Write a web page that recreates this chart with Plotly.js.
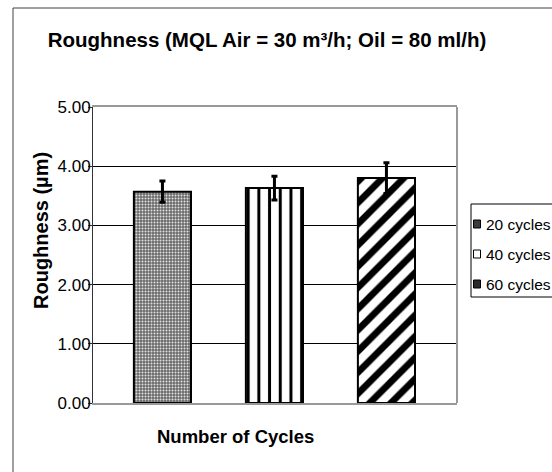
<!DOCTYPE html>
<html>
<head>
<meta charset="utf-8">
<script src="https://cdn.plot.ly/plotly-3.0.1.min.js"></script>
<style>
html,body{margin:0;padding:0;background:#fff;}
#chart{width:552px;height:472px;}
</style>
</head>
<body>
<div id="chart"></div>
<script>
// ---- data ----
const categories = ['20 cycles', '40 cycles', '60 cycles'];
const roughness = [3.57, 3.63, 3.80];
const roughnessErr = [0.18, 0.20, 0.26];
const yTickValues = [0, 1, 2, 3, 4, 5];
const chartTitle = 'Roughness (MQL Air = 30 m³/h; Oil = 80 ml/h)';
const xTitle = 'Number of Cycles';
const yTitle = 'Roughness (µm)';

// ---- layout geometry (pixels) ----
const W = 552, H = 472;
const PL = 93, PR = 457, PT = 107, PB = 403;
const px = v => (v - PL) / (PR - PL);
const py = v => (PB - v) / (PB - PT);

const patterns = [
  {shape: '.', bgcolor: '#6a6a6a', fgcolor: '#e2e2e2', size: 3, solidity: 0.35},
  {shape: '|', bgcolor: '#ffffff', fgcolor: '#000000', size: 10.7, solidity: 0.28},
  {shape: '/', bgcolor: '#ffffff', fgcolor: '#000000', size: 15, solidity: 0.45}
];
const legendFill = ['#3a3a3a', '#ffffff', '#2a2a2a'];

const traces = categories.map((c, i) => ({
  type: 'bar',
  name: c,
  x: [c],
  y: [roughness[i]],
  width: 0.51,
  marker: {
    color: patterns[i].bgcolor,
    pattern: patterns[i],
    line: {color: '#000', width: 2}
  },
  error_y: {type: 'data', array: [roughnessErr[i]], visible: true, color: '#000', thickness: 3, width: 3},
  showlegend: false,
  hoverinfo: 'y'
}));

const FONT = 'Liberation Sans, Arial, sans-serif';

const shapes = [
  // outer chart border
  {type: 'rect', xref: 'paper', yref: 'paper', x0: px(13), x1: px(600), y0: py(520), y1: py(8),
   line: {color: '#404040', width: 1}, fillcolor: 'rgba(0,0,0,0)', layer: 'below'},
  // right frame line of plot area
  {type: 'line', xref: 'paper', yref: 'paper', x0: 1, x1: 1, y0: 0, y1: 1,
   line: {color: '#999', width: 2}},
  // legend box
  {type: 'rect', xref: 'paper', yref: 'paper', x0: px(471), x1: px(600), y0: py(297), y1: py(204),
   line: {color: '#000', width: 1}, fillcolor: 'rgba(0,0,0,0)'}
];
const annotations = [
  {text: '<b>' + xTitle + '</b>', xref: 'paper', yref: 'paper', x: px(235), y: py(436),
   xanchor: 'center', yanchor: 'middle', showarrow: false, font: {family: FONT, size: 18.5, color: '#000'}},
  {text: '<b>' + yTitle + '</b>', xref: 'paper', yref: 'paper', x: px(41), y: py(231), textangle: -90,
   xanchor: 'center', yanchor: 'middle', showarrow: false, font: {family: FONT, size: 20, color: '#000'}}
];
categories.forEach((c, i) => {
  const cy = 224 + i * 30;
  shapes.push({type: 'rect', xref: 'paper', yref: 'paper', x0: px(473.5), x1: px(480.5), y0: py(cy + 4), y1: py(cy - 4),
    line: {color: '#000', width: 1}, fillcolor: legendFill[i]});
  annotations.push({text: c, xref: 'paper', yref: 'paper', x: px(484), y: py(cy), xanchor: 'left', yanchor: 'middle',
    showarrow: false, font: {family: FONT, size: 15.5, color: '#000'}});
});

const layout = {
  width: W, height: H,
  margin: {l: PL, r: W - PR, t: PT, b: H - PB, pad: 0},
  paper_bgcolor: '#fff', plot_bgcolor: '#fff',
  title: {text: '<b>' + chartTitle + '</b>', x: 267 / W, xanchor: 'center', xref: 'container',
          y: 1 - 40 / H, yanchor: 'middle', yref: 'container',
          font: {family: FONT, size: 20.5, color: '#000'}},
  barmode: 'overlay',
  showlegend: false,
  xaxis: {type: 'category', categoryarray: categories, range: [-0.62, 2.63],
          showticklabels: false, ticks: '', showgrid: false, zeroline: false,
          showline: true, linecolor: '#999', linewidth: 2, mirror: true, fixedrange: true},
  yaxis: {range: [0, 5], tickvals: yTickValues, tickformat: '.2f',
          showgrid: true, gridcolor: '#000', gridwidth: 1, zeroline: false,
          showline: true, linecolor: '#333', linewidth: 1,
          ticks: 'outside', ticklen: 4, tickcolor: '#333', ticklabelstandoff: -6,
          tickfont: {family: FONT, size: 17, color: '#000'}, fixedrange: true},
  shapes: shapes,
  annotations: annotations
};

Plotly.newPlot('chart', traces, layout, {displayModeBar: false, staticPlot: true});
</script>
</body>
</html>
